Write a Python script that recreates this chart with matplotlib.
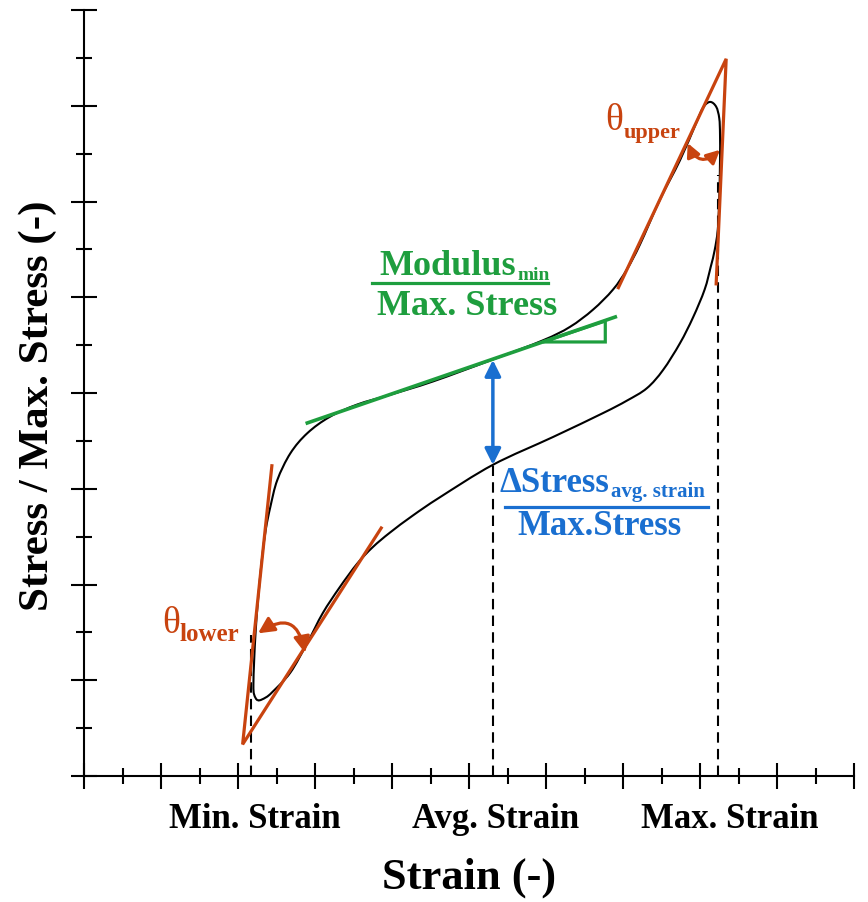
import matplotlib.pyplot as plt
from matplotlib.patches import FancyArrowPatch, Polygon, PathPatch
from matplotlib.path import Path

# hysteresis loop in axis units (1 unit = 1 major tick)
# upper branch: from min strain point up to max strain
upper_strain = [2.26, 2.21, 2.20, 2.21, 2.23, 2.26, 2.31, 2.36, 2.42, 2.51, 2.68, 2.90,
                3.19, 3.55, 3.97, 4.53, 5.31, 5.96, 6.31, 6.61, 6.87, 7.05, 7.22, 7.48,
                7.74, 7.94, 8.04, 8.13, 8.21, 8.25, 8.26, 8.26]
upper_stress = [0.79, 0.85, 0.95, 1.21, 1.52, 1.84, 2.26, 2.57, 2.81, 3.09, 3.37, 3.58,
                3.75, 3.88, 3.98, 4.12, 4.35, 4.55, 4.69, 4.87, 5.08, 5.29, 5.55, 6.02,
                6.43, 6.80, 6.98, 7.04, 6.99, 6.87, 6.70, 6.43]
# lower branch: from min strain point to max strain
lower_strain = [2.26, 2.36, 2.45, 2.68, 2.90, 3.10, 3.32, 3.55, 3.75, 3.97, 4.27, 4.62,
                5.31, 6.09, 6.74, 7.05, 7.31, 7.52, 7.74, 7.91, 8.06, 8.14, 8.19, 8.23,
                8.25, 8.26]
lower_stress = [0.79, 0.82, 0.88, 1.08, 1.39, 1.70, 1.97, 2.22, 2.39, 2.54, 2.72, 2.91,
                3.25, 3.54, 3.79, 3.92, 4.05, 4.24, 4.52, 4.79, 5.08, 5.32, 5.49, 5.70,
                6.02, 6.43]

# strain markers (dashed lines) and how far up they go
marker_strain = [2.17, 5.31, 8.23]
marker_top = [1.47, 3.25, 6.28]
marker_labels = ['Min. Strain', 'Avg. Strain', 'Max. Strain']
marker_label_x = [2.22, 5.34, 8.39]

# tangent lines
lower_vertex = (2.06, 0.33)
lower_steep_end = (2.44, 3.24)
lower_flat_end = (3.86, 2.59)
upper_vertex = (8.34, 7.49)
upper_steep_end = (8.21, 5.14)
upper_flat_end = (6.94, 5.10)
mod_line_x = [2.90, 6.90]
mod_line_y = [3.687, 4.794]
mod_tri_x = [5.96, 6.77, 6.77]
mod_tri_y = [4.533, 4.533, 4.752]
dstress_x = 5.31
dstress_y = [4.345, 3.25]

ORANGE = '#C8430F'
GREEN = '#1E9E3E'
BLUE = '#1A6FD0'
SERIF = 'Liberation Serif'

plt.rcParams['font.family'] = SERIF
plt.rcParams['font.weight'] = 'bold'
plt.rcParams['axes.labelweight'] = 'bold'


def smooth_loop(xs, ys):
    # closed catmull-rom curve through the points, as cubic bezier path
    n = len(xs)
    verts = [(xs[0], ys[0])]
    codes = [Path.MOVETO]
    for i in range(n):
        p0 = (xs[i - 1], ys[i - 1])
        p1 = (xs[i], ys[i])
        p2 = (xs[(i + 1) % n], ys[(i + 1) % n])
        p3 = (xs[(i + 2) % n], ys[(i + 2) % n])
        c1 = (p1[0] + (p2[0] - p0[0]) / 6, p1[1] + (p2[1] - p0[1]) / 6)
        c2 = (p2[0] - (p3[0] - p1[0]) / 6, p2[1] - (p3[1] - p1[1]) / 6)
        verts += [c1, c2, p2]
        codes += [Path.CURVE4] * 3
    return Path(verts, codes)


fig = plt.figure(figsize=(8.68, 9.02), dpi=100)
ax = fig.add_axes([84 / 868, 126 / 902, 770 / 868, 766 / 902])
ax.set_xlim(0, 10)
ax.set_ylim(0, 8)
for s in ['top', 'right']:
    ax.spines[s].set_visible(False)
for s in ['left', 'bottom']:
    ax.spines[s].set_linewidth(1.5)
ax.set_xticks(range(0, 11))
ax.set_xticks([i + 0.5 for i in range(10)], minor=True)
ax.set_yticks(range(0, 9))
ax.set_yticks([i + 0.5 for i in range(8)], minor=True)
ax.tick_params(which='major', direction='inout', length=19, width=1.5,
               labelbottom=False, labelleft=False)
ax.tick_params(which='minor', direction='inout', length=11, width=1.5)

# dashed marker lines
for xs, top in zip(marker_strain, marker_top):
    ax.plot([xs, xs], [0, top], color='black', lw=1.5, ls=(0, (5, 3)), zorder=1)
for lx, lab in zip(marker_label_x, marker_labels):
    ax.text(lx, -0.54, lab, ha='center', va='baseline', fontsize=25)

# loop: lower branch run backwards from max strain, then upper branch
loop_x = upper_strain + lower_strain[::-1][1:-1]
loop_y = upper_stress + lower_stress[::-1][1:-1]
ax.add_patch(PathPatch(smooth_loop(loop_x, loop_y), fill=False, edgecolor='black',
                       lw=1.5, zorder=2))

# orange angle tangents
for v, a, b in [(lower_vertex, lower_steep_end, lower_flat_end),
                (upper_vertex, upper_steep_end, upper_flat_end)]:
    ax.plot([a[0], v[0], b[0]], [a[1], v[1], b[1]], color=ORANGE, lw=2.3,
            solid_joinstyle='miter', zorder=3)

arc1 = FancyArrowPatch((2.26, 1.49), (2.87, 1.285), arrowstyle='<|-|>', mutation_scale=24,
                       connectionstyle='arc3,rad=-0.75', color=ORANGE, lw=2.3,
                       shrinkA=0, shrinkB=0, zorder=4)
arc2 = FancyArrowPatch((7.84, 6.61), (8.26, 6.54), arrowstyle='<|-|>', mutation_scale=20,
                       connectionstyle='arc3,rad=0.7', color=ORANGE, lw=2.3,
                       shrinkA=0, shrinkB=0, zorder=4)
ax.add_patch(arc1)
ax.add_patch(arc2)

# green modulus tangent + slope triangle
ax.plot(mod_line_x, mod_line_y, color=GREEN, lw=2.6, zorder=3)
ax.add_patch(Polygon(list(zip(mod_tri_x, mod_tri_y)), closed=True, fill=False,
                     edgecolor=GREEN, lw=2.3, zorder=3))

# blue delta stress arrow
ax.add_patch(FancyArrowPatch((dstress_x, dstress_y[0]), (dstress_x, dstress_y[1]),
                             arrowstyle='<|-|>', mutation_scale=24, color=BLUE, lw=2.5,
                             shrinkA=0, shrinkB=0, zorder=4))


def fraction(num, sub, den, color, num_xy, den_xy, line_x, line_y, size, sub_size):
    t = ax.text(num_xy[0], num_xy[1], num, color=color, fontsize=size,
                ha='left', va='baseline')
    ax.annotate(sub, xy=(1, 0), xycoords=t, xytext=(1, 2), textcoords='offset points',
                color=color, fontsize=sub_size, ha='left', va='baseline')
    ax.plot(line_x, [line_y, line_y], color=color, lw=2.3, clip_on=False)
    ax.text(den_xy[0], den_xy[1], den, color=color, fontsize=size,
            ha='center', va='baseline')


fraction('Modulus', 'min', 'Max. Stress', GREEN, (3.84, 5.23), (4.97, 4.815),
         [3.74, 6.03], 5.149, 26, 14)
fraction('\u0394Stress', 'avg. strain', 'Max.Stress', BLUE, (5.40, 2.966), (6.70, 2.517),
         [5.47, 8.10], 2.809, 25, 15)


def theta(x, y, sub, sub_size):
    t = ax.text(x, y, '\u03b8', color=ORANGE, fontsize=27, fontweight='normal',
                ha='left', va='baseline')
    ax.annotate(sub, xy=(1, 0), xycoords=t, xytext=(0, 0), textcoords='offset points',
                color=ORANGE, fontsize=sub_size, ha='left', va='baseline')


theta(1.01, 1.49, 'lower', 18)
theta(6.77, 6.75, 'upper', 16)

ax.set_xlabel('Strain (-)', fontsize=32)
ax.xaxis.set_label_coords(0.5, -0.107)
ax.set_ylabel('Stress / Max. Stress (-)', fontsize=31)
ax.yaxis.set_label_coords(-0.035, 0.484)

fig.savefig('out.png', dpi=100)
